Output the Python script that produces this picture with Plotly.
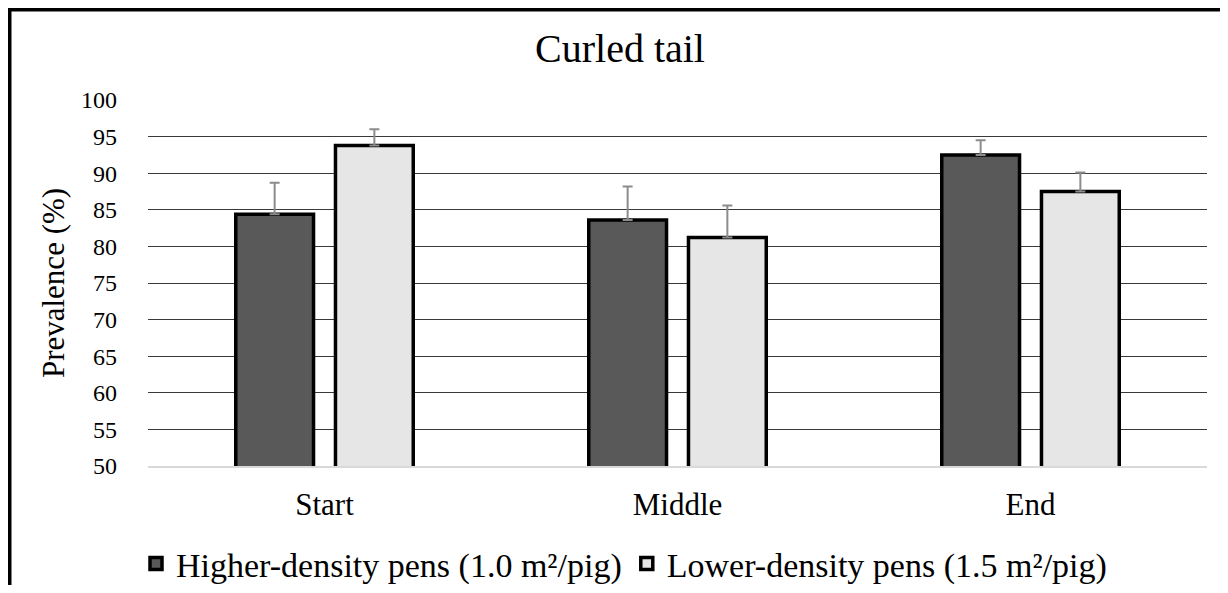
import plotly.graph_objects as go

categories = ["Start", "Middle", "End"]
higher_density = [84.4, 83.6, 92.5]
higher_err = [4.3, 4.6, 2.0]
lower_density = [93.8, 81.2, 87.5]
lower_err = [2.2, 4.4, 2.6]
series_names = ["Higher-density pens (1.0 m²/pig)", "Lower-density pens (1.5 m²/pig)"]
y_ticks = list(range(50, 101, 5))

FONT = "Liberation Serif, Times New Roman, serif"

fig = go.Figure()
fig.add_trace(go.Bar(
    x=categories, y=higher_density, name=series_names[0],
    marker=dict(color="#595959", line=dict(color="black", width=3.5)),
    error_y=dict(type="data", array=higher_err, arrayminus=[0]*3, symmetric=False,
                 color="#8c8c8c", thickness=2, width=5),
))
fig.add_trace(go.Bar(
    x=categories, y=lower_density, name=series_names[1],
    marker=dict(color="#E7E6E6", line=dict(color="black", width=3.5)),
    error_y=dict(type="data", array=lower_err, arrayminus=[0]*3, symmetric=False,
                 color="#8c8c8c", thickness=2, width=5),
))

# page has an 8px body margin; work in page coordinates and convert
OFF = 8
W, H = 1212, 577
L = 148 - OFF
T = 100 - OFF
R = W - (1207 - OFF)
B = H - (466 - OFF)
pw, ph = W - L - R, H - T - B

def px_x(x):
    return (x - OFF - L) / pw

def px_y(y):
    return (H - B - (y - OFF)) / ph

fig.update_layout(
    width=W, height=H,
    margin=dict(l=L, r=R, t=T, b=B, autoexpand=False),
    paper_bgcolor="white", plot_bgcolor="white",
    barmode="group", bargap=0.435, bargroupgap=0.22,
    font=dict(family=FONT, color="black", size=24),
    title=dict(text="Curled tail", x=(620 - OFF) / W, xref="container", xanchor="center",
               y=1 - (48 - OFF) / H, yref="container", yanchor="middle",
               font=dict(size=40, family=FONT, color="black")),
    xaxis=dict(showgrid=False, showline=True, linecolor="#d9d9d9", linewidth=2,
               ticks="", tickfont=dict(size=31, family=FONT), ticklabelstandoff=10,
               automargin=False),
    yaxis=dict(range=[50, 100], tickvals=y_ticks, showgrid=True, gridcolor="#3a3a3a",
               gridwidth=1.3, zeroline=False, showline=False, ticks="",
               tickfont=dict(size=24, family=FONT), ticklabelstandoff=30, automargin=False,
               title=dict(text="Prevalence (%)", font=dict(size=31, family=FONT), standoff=7)),
    legend=dict(orientation="h", x=px_x(624), xref="paper", xanchor="center",
                y=px_y(564), yanchor="middle",
                font=dict(size=34, family=FONT), itemwidth=30, traceorder="normal"),
    showlegend=True,
)

fig.add_shape(type="line", xref="paper", yref="paper",
              x0=px_x(9.5), x1=px_x(9.5), y0=px_y(9.5), y1=px_y(620),
              line=dict(color="black", width=4))
fig.add_shape(type="line", xref="paper", yref="paper",
              x0=px_x(7.5), x1=px_x(1240), y0=px_y(9.5), y1=px_y(9.5),
              line=dict(color="black", width=4))

fig.write_html("out.html")
